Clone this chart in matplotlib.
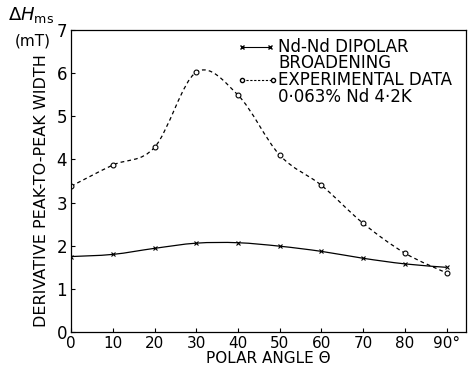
import numpy as np
import matplotlib
matplotlib.use("Agg")
import matplotlib.pyplot as plt
from matplotlib.path import Path
from matplotlib.patches import PathPatch
from matplotlib.lines import Line2D

# data
angle = [0, 10, 20, 30, 40, 50, 60, 70, 80, 90]
dipolar = [1.75, 1.80, 1.94, 2.06, 2.07, 1.99, 1.87, 1.71, 1.58, 1.50]
experimental = [3.38, 3.87, 4.28, 6.02, 5.49, 4.10, 3.40, 2.52, 1.83, 1.37]

x_ticks = [0, 10, 20, 30, 40, 50, 60, 70, 80, 90]
x_labels = ["0", "10", "20", "30", "40", "50", "60", "70", "80", "90°"]
y_ticks = [0, 1, 2, 3, 4, 5, 6, 7]

plt.rcParams["font.family"] = ["DejaVu Sans"]


def smooth_path(xs, ys):
    # Catmull-Rom through the points, drawn as cubic Bezier segments
    pts = np.column_stack([xs, ys]).astype(float)
    ext = np.vstack([pts[0], pts, pts[-1]])
    verts = [tuple(pts[0])]
    codes = [Path.MOVETO]
    for i in range(1, len(ext) - 2):
        p0, p1, p2, p3 = ext[i - 1], ext[i], ext[i + 1], ext[i + 2]
        c1 = p1 + (p2 - p0) / 6.0
        c2 = p2 - (p3 - p1) / 6.0
        verts += [tuple(c1), tuple(c2), tuple(p2)]
        codes += [Path.CURVE4] * 3
    return Path(verts, codes)


fig = plt.figure(figsize=(4.68, 3.69), dpi=100)
ax = fig.add_axes([0.152, 0.100, 0.844, 0.819])

ax.add_patch(PathPatch(smooth_path(angle, dipolar), fill=False,
                       edgecolor="black", linewidth=0.9))
ax.add_patch(PathPatch(smooth_path(angle, experimental), fill=False,
                       edgecolor="black", linewidth=0.9, linestyle=(0, (3, 2.5))))
ax.plot(angle, dipolar, linestyle="none", marker="x", markersize=3.5,
        markeredgewidth=0.8, color="black")
ax.plot(angle, experimental, linestyle="none", marker="o", markersize=3.5,
        markeredgewidth=0.8, markerfacecolor="white", color="black")

ax.set_xlim(0, 94.7)
ax.set_ylim(0, 7)
ax.set_xticks(x_ticks)
ax.set_xticklabels(x_labels, fontsize=11)
ax.set_yticks(y_ticks)
ax.set_yticklabels([str(v) for v in y_ticks], fontsize=12)
ax.tick_params(direction="in", length=3, width=0.8, pad=3)
for s in ax.spines.values():
    s.set_linewidth(0.9)

ax.set_xlabel("POLAR ANGLE Θ", fontsize=11, labelpad=0)
ax.set_ylabel("DERIVATIVE PEAK-TO-PEAK WIDTH", fontsize=11.5)
ax.yaxis.set_label_coords(-0.055, 0.467)

# unit label at top left
fig.text(0.018, 0.958, r"$\Delta H_{\rm ms}$", fontsize=13, ha="left", va="center")
fig.text(0.032, 0.888, "(mT)", fontsize=11, ha="left", va="center")

# legend drawn by hand
lt = ax.transAxes
ax.add_line(Line2D([0.433, 0.504], [0.944, 0.944], transform=lt, color="black",
                   linewidth=0.8, marker="x", markersize=3, markevery=[0, 1]))
ax.add_line(Line2D([0.433, 0.511], [0.834, 0.834], transform=lt, color="black",
                   linewidth=0.8, linestyle=(0, (2, 1.5)), marker="o", markersize=3,
                   markerfacecolor="white", markevery=[0, 1]))
ax.text(0.524, 0.944, "Nd-Nd DIPOLAR", transform=lt, fontsize=12, va="center")
ax.text(0.524, 0.889, "BROADENING", transform=lt, fontsize=12, va="center")
ax.text(0.524, 0.834, "EXPERIMENTAL DATA", transform=lt, fontsize=12, va="center")
ax.text(0.524, 0.779, "0·063% Nd 4·2K", transform=lt, fontsize=12, va="center")

fig.savefig("out.png", dpi=100)
